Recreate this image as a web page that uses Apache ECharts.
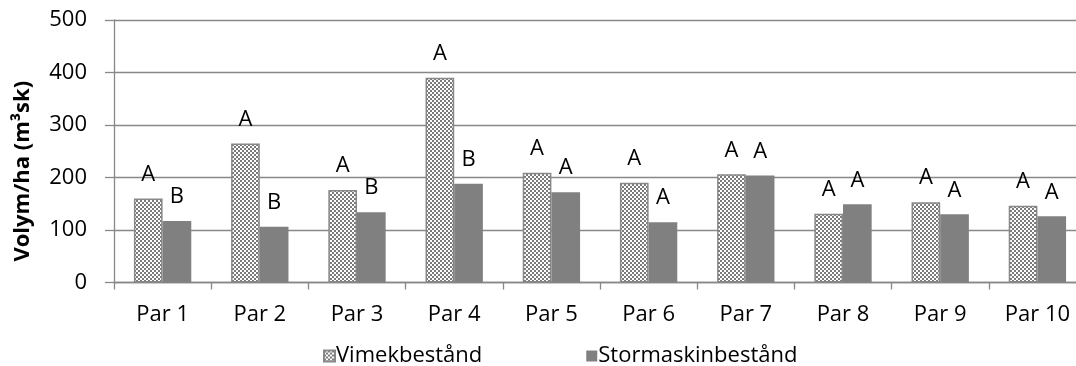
<!DOCTYPE html>
<html>
<head>
<meta charset="utf-8">
<script src="https://cdn.jsdelivr.net/npm/echarts@6/dist/echarts.min.js"></script>
<style>
html,body{margin:0;padding:0;background:#fff;}
#chart{width:1076px;height:366px;}
</style>
</head>
<body>
<div id="chart"></div>
<script>
const categories = ['Par 1','Par 2','Par 3','Par 4','Par 5','Par 6','Par 7','Par 8','Par 9','Par 10'];
const vimekValues = [160, 265, 176, 390, 209, 190, 206, 131, 153, 146];
const stormValues = [117, 106, 134, 188, 172, 115, 204, 149, 130, 126];
const vimekLetters = ['A','A','A','A','A','A','A','A','A','A'];
const stormLetters = ['B','B','B','B','A','A','A','A','A','A'];
const seriesNames = ['Vimekbestånd', 'Stormaskinbestånd'];
const yTicks = [0, 100, 200, 300, 400, 500];
const yTitle = 'Volym/ha (m³sk)';

const FONT = '"Open Sans", sans-serif';

// checkered pattern
const pc = document.createElement('canvas');
pc.width = 4; pc.height = 4;
const ctx = pc.getContext('2d');
ctx.fillStyle = '#ffffff'; ctx.fillRect(0,0,4,4);
ctx.fillStyle = '#7a7a7a';
ctx.fillRect(0,0,2,2); ctx.fillRect(2,2,2,2);
const checker = {image: pc, repeat: 'repeat'};

const chart = echarts.init(document.getElementById('chart'), null, {renderer:'canvas'});

function labelFmt(letters){ return p => letters[p.dataIndex]; }

chart.setOption({
  animation: false,
  grid: {left: 114, top: 20, width: 972, height: 262.5, containLabel: false, outerBoundsMode: 'none'},
  legend: {
    left: 318, top: 340,
    itemWidth: 11, itemHeight: 11, itemGap: 104,
    icon: 'rect',
    textStyle: {fontFamily: FONT, fontSize: 22, color: '#000', padding: [0,0,0,-4]},
    data: seriesNames
  },
  xAxis: {
    type: 'category',
    data: categories,
    axisLine: {lineStyle: {color: '#888', width: 1.3}},
    axisTick: {show: true, length: 7, lineStyle: {color: '#888', width: 1.3}},
    axisLabel: {fontFamily: FONT, fontSize: 22, color: '#000', margin: 21}
  },
  yAxis: {
    type: 'value',
    min: yTicks[0], max: yTicks[yTicks.length-1], interval: 100,
    name: yTitle,
    nameLocation: 'middle',
    nameGap: 80,
    nameTextStyle: {fontFamily: FONT, fontSize: 22, fontWeight: 'bold', color: '#000', padding: [0, 40, 0, 0]},
    axisLine: {show: true, lineStyle: {color: '#888', width: 1.3}},
    axisTick: {show: true, length: 9, lineStyle: {color: '#888', width: 1.3}},
    splitLine: {show: true, lineStyle: {color: '#888', width: 1.3}},
    axisLabel: {fontFamily: FONT, fontSize: 22, color: '#000', margin: 27}
  },
  series: [
    {
      name: seriesNames[0], type: 'bar', data: vimekValues,
      barGap: '0%', barCategoryGap: '41%',
      itemStyle: {color: checker, borderColor: '#888', borderWidth: 1.5},
      label: {show: true, position: 'top', distance: 13, formatter: labelFmt(vimekLetters),
              fontFamily: FONT, fontSize: 22, color: '#000'}
    },
    {
      name: seriesNames[1], type: 'bar', data: stormValues,
      barGap: '0%', barCategoryGap: '41%',
      itemStyle: {color: '#808080'},
      label: {show: true, position: 'top', distance: 13, formatter: labelFmt(stormLetters),
              fontFamily: FONT, fontSize: 22, color: '#000'}
    }
  ]
});
</script>
</body>
</html>
